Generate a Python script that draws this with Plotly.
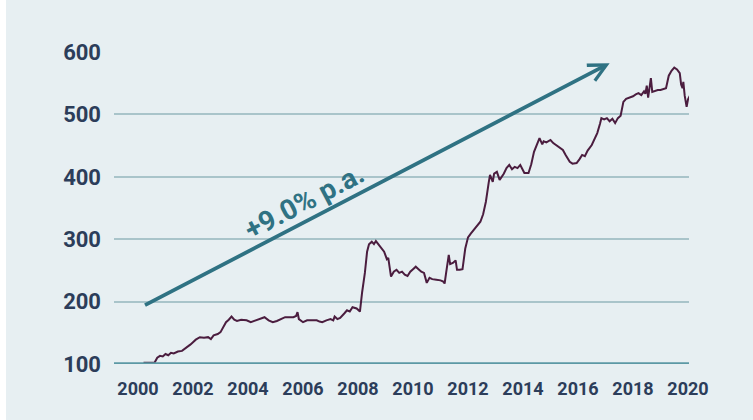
import plotly.graph_objects as go

# ---- data ----
years = [2000.2, 2000.4, 2000.6, 2000.7, 2000.8, 2000.9, 2001.0, 2001.1, 2001.2, 2001.3, 2001.45, 2001.6, 2001.7, 2001.8, 2001.9,
         2002.0, 2002.1, 2002.25, 2002.4, 2002.55, 2002.65, 2002.75, 2002.9, 2003.0, 2003.1, 2003.2, 2003.3, 2003.4, 2003.5, 2003.6,
         2003.75, 2003.95, 2004.1, 2004.3, 2004.45, 2004.6, 2004.75, 2004.9, 2005.05, 2005.2, 2005.35, 2005.5, 2005.65, 2005.75, 2005.8,
         2005.85, 2006.0, 2006.15, 2006.3, 2006.5, 2006.6, 2006.7, 2006.85, 2007.0, 2007.1, 2007.15, 2007.25, 2007.35, 2007.5, 2007.6,
         2007.7, 2007.8, 2007.95, 2008.07, 2008.15, 2008.25, 2008.33, 2008.4, 2008.5, 2008.58, 2008.65, 2008.75, 2008.85, 2008.95, 2009.05,
         2009.1, 2009.2, 2009.3, 2009.4, 2009.5, 2009.6, 2009.7, 2009.8, 2009.9, 2010.0, 2010.1, 2010.2, 2010.3, 2010.4, 2010.45,
         2010.5, 2010.6, 2010.7, 2010.85, 2011.0, 2011.1, 2011.15, 2011.2, 2011.3, 2011.35, 2011.45, 2011.55, 2011.6, 2011.7, 2011.8,
         2011.9, 2012.0, 2012.1, 2012.2, 2012.35, 2012.45, 2012.55, 2012.65, 2012.75, 2012.8, 2012.9, 2012.95, 2013.05, 2013.15, 2013.3,
         2013.4, 2013.5, 2013.6, 2013.7, 2013.8, 2013.9, 2014.0, 2014.05, 2014.2, 2014.3, 2014.4, 2014.5, 2014.6, 2014.7, 2014.75,
         2014.85, 2015.0, 2015.1, 2015.2, 2015.3, 2015.45, 2015.55, 2015.7, 2015.8, 2015.95, 2016.05, 2016.15, 2016.25, 2016.35, 2016.5,
         2016.6, 2016.7, 2016.8, 2016.85, 2016.95, 2017.05, 2017.15, 2017.25, 2017.35, 2017.45, 2017.55, 2017.65, 2017.75, 2017.9, 2018.0,
         2018.1, 2018.2, 2018.3, 2018.4, 2018.45, 2018.5, 2018.55, 2018.6, 2018.65, 2018.7, 2018.8, 2018.9, 2019.0, 2019.1, 2019.2,
         2019.25, 2019.3, 2019.4, 2019.5, 2019.6, 2019.7, 2019.75, 2019.8, 2019.83, 2019.88, 2019.95, 2020.0, 2020.07]
values = [102, 102, 102, 110, 113, 112, 116, 114, 118, 117, 120, 121, 124, 127, 131,
          135, 139, 143, 142, 143, 140, 146, 148, 151, 158, 167, 171, 176, 171, 169,
          171, 170, 167, 170, 172, 175, 170, 167, 169, 172, 175, 175, 175, 177, 183,
          172, 167, 170, 170, 170, 168, 167, 170, 172, 170, 176, 172, 174, 181, 186,
          184, 191, 189, 184, 215, 246, 280, 292, 296, 292, 297, 291, 286, 280, 268,
          270, 240, 248, 251, 246, 248, 243, 241, 248, 252, 256, 252, 248, 246, 238,
          230, 238, 236, 235, 234, 232, 229, 245, 275, 260, 262, 266, 251, 251, 252,
          285, 303, 309, 314, 322, 328, 340, 360, 390, 403, 392, 405, 408, 395, 405,
          414, 419, 412, 416, 414, 419, 410, 406, 406, 420, 440, 450, 462, 452, 457,
          455, 459, 454, 451, 448, 443, 435, 424, 421, 422, 428, 435, 433, 442, 451,
          460, 470, 485, 494, 492, 494, 489, 493, 486, 494, 498, 520, 525, 527, 529,
          532, 534, 531, 537, 533, 546, 527, 540, 558, 536, 538, 539, 539, 541, 542,
          552, 562, 570, 575, 572, 566, 548, 542, 552, 530, 512, 524, 530]

x_ticks = [2000, 2002, 2004, 2006, 2008, 2010, 2012, 2014, 2016, 2018, 2020]
y_ticks = [100, 200, 300, 400, 500, 600]

trend_start = (2000.2, 193)
trend_end = (2017.15, 582)
trend_label = "+9.0% p.a."

# ---- styles ----
BG = "#e7eff2"
NAVY = "#2c3d5a"
TEAL = "#2f7283"
LINE = "#4b1d3f"
GRID = "#a9c4ca"
BASE = "#5c99a5"

W, H = 753, 420
L, R, T, B = 114, 64, 52, 56

fig = go.Figure()
fig.add_trace(go.Scatter(x=years, y=values, mode="lines",
                         line=dict(color=LINE, width=2), hoverinfo="skip", showlegend=False,
                         cliponaxis=False))

# trend arrow
fig.add_annotation(x=trend_end[0], y=trend_end[1], ax=trend_start[0], ay=trend_start[1],
                   xref="x", yref="y", axref="x", ayref="y", text="", showarrow=True,
                   arrowhead=5, arrowsize=0.9, arrowwidth=3.8, arrowcolor=TEAL, standoff=0)
fig.add_annotation(x=2006.05, y=361, xref="x", yref="y", text="<b>" + trend_label + "</b>",
                   showarrow=False, textangle=-27.5,
                   font=dict(family="Roboto", size=28, color=TEAL))

# baseline at 100
fig.add_shape(type="line", xref="paper", yref="y", x0=0, x1=1, y0=100, y1=100,
              line=dict(color=BASE, width=3.5), layer="above")

# white strips (page edge)
pw = W - L - R
ph = H - T - B
fig.add_shape(type="rect", xref="paper", yref="paper", x0=-L / pw - 0.01, x1=(6 - L) / pw,
              y0=-B / ph - 0.01, y1=(H - T) / ph + 0.1, fillcolor="white", line=dict(width=0), layer="below")
fig.add_shape(type="rect", xref="paper", yref="paper", x0=-L / pw - 0.01, x1=1 + R / pw + 0.01,
              y0=(H - T - 4) / ph, y1=(H - T) / ph + 0.1, fillcolor="white", line=dict(width=0), layer="below")

fig.update_xaxes(range=[1999.127, 2020.036], tickvals=x_ticks, ticktext=[str(v) for v in x_ticks],
                 showgrid=False, zeroline=False, showline=False, ticks="",
                 tickfont=dict(family="Roboto", size=18, color=NAVY, weight="bold"),
                 ticklabelstandoff=12)
fig.update_yaxes(range=[100, 600], tickvals=y_ticks, ticktext=[str(v) for v in y_ticks],
                 showgrid=True, gridcolor=GRID, gridwidth=1.5, zeroline=False, showline=False, ticks="",
                 tickfont=dict(family="Roboto", size=22, color=NAVY, weight="bold"),
                 ticklabelstandoff=12)

fig.update_layout(width=W, height=H, margin=dict(l=L, r=R, t=T, b=B),
                  paper_bgcolor=BG, plot_bgcolor=BG, showlegend=False)

fig.write_html("out.html")
